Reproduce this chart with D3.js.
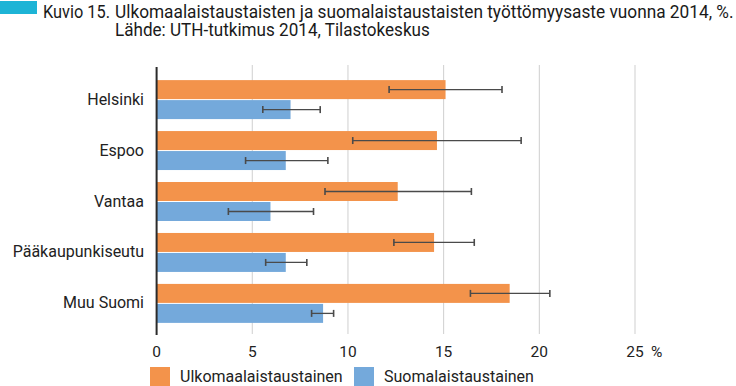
<!DOCTYPE html>
<html>
<head>
<meta charset="utf-8">
<script src="https://cdn.jsdelivr.net/npm/d3@7"></script>
<style>
  body { margin: 0; background: #fff; }
  svg { display: block; }
</style>
</head>
<body>
<div id="chart"></div>
<script>
// Työttömyysaste 2014 alueittain, virhepalkit = luottamusväli
const regions   = ["Helsinki", "Espoo", "Vantaa", "Pääkaupunkiseutu", "Muu Suomi"];
const foreign   = [15.1, 14.65, 12.6, 14.5, 18.45];
const foreignLo = [12.15, 10.25, 8.8, 12.4, 16.4];
const foreignHi = [18.05, 19.05, 16.45, 16.6, 20.55];
const native    = [7.0, 6.75, 5.95, 6.75, 8.7];
const nativeLo  = [5.55, 4.65, 3.75, 5.7, 8.1];
const nativeHi  = [8.55, 8.95, 8.2, 7.85, 9.25];
const ticks     = [0, 5, 10, 15, 20, 25];
const seriesNames = ["Ulkomaalaistaustainen", "Suomalaistaustainen"];

const width = 736, height = 386;
const COLORS = ["#F3934B", "#74A9DB"];
const FONT = "Roboto, 'Noto Sans', sans-serif";

const svg = d3.select("#chart").append("svg")
  .attr("width", width).attr("height", height);

// Title block — condensed look by squeezing each line horizontally
svg.append("rect")
  .attr("x", 0).attr("y", 1).attr("width", 37).attr("height", 13)
  .attr("fill", "#1DB4D6");

function condensed(str, x0, y0, targetW) {
  const g = svg.append("g");
  const t = g.append("text")
    .attr("x", 0).attr("y", 0)
    .style("font-family", FONT).style("font-size", "18px").style("fill", "#1a1a1a")
    .text(str);
  const w = t.node().getComputedTextLength();
  g.attr("transform", `translate(${x0},${y0}) scale(${targetW / w},1)`);
}

condensed("Kuvio 15.", 43, 17.5, 67);
condensed("Ulkomaalaistaustaisten ja suomalaistaustaisten työttömyysaste vuonna 2014, %.", 115, 17.5, 619);
condensed("Lähde: UTH-tutkimus 2014, Tilastokeskus", 115, 35.5, 315);

// Scales
const x = d3.scaleLinear().domain([0, 25]).range([156.6, 635]);
const y = d3.scaleBand().domain(regions).range([74, 329]).paddingInner(0.235).paddingOuter(0.12);
const sub = d3.scaleBand().domain([0, 1]).range([0, y.bandwidth()]).paddingInner(0.05);

// Gridlines
svg.append("g")
  .selectAll("line")
  .data(ticks.slice(1))
  .join("line")
  .attr("x1", d => x(d)).attr("x2", d => x(d))
  .attr("y1", 65).attr("y2", 334)
  .attr("stroke", "#cfcfcf").attr("stroke-width", 1);

// Bars
const rows = regions.map((r, i) => ({
  region: r,
  vals: [
    { k: 0, v: foreign[i], lo: foreignLo[i], hi: foreignHi[i] },
    { k: 1, v: native[i],  lo: nativeLo[i],  hi: nativeHi[i] }
  ]
}));

const groups = svg.append("g").selectAll("g")
  .data(rows)
  .join("g")
  .attr("transform", d => `translate(0,${y(d.region)})`);

groups.selectAll("rect")
  .data(d => d.vals)
  .join("rect")
  .attr("x", x(0))
  .attr("y", d => sub(d.k))
  .attr("width", d => x(d.v) - x(0))
  .attr("height", sub.bandwidth())
  .attr("fill", d => COLORS[d.k]);

// Error bars
const eb = groups.selectAll("g.err")
  .data(d => d.vals)
  .join("g")
  .attr("class", "err")
  .attr("transform", d => `translate(0,${sub(d.k) + sub.bandwidth() / 2})`);

eb.append("line")
  .attr("x1", d => x(d.lo)).attr("x2", d => x(d.hi))
  .attr("y1", 0).attr("y2", 0)
  .attr("stroke", "#4a4a4a").attr("stroke-width", 1.3);

eb.selectAll("line.cap")
  .data(d => [d.lo, d.hi])
  .join("line")
  .attr("class", "cap")
  .attr("x1", d => x(d)).attr("x2", d => x(d))
  .attr("y1", -3.5).attr("y2", 3.5)
  .attr("stroke", "#4a4a4a").attr("stroke-width", 1.6);

// Vertical axis line
svg.append("line")
  .attr("x1", x(0)).attr("x2", x(0))
  .attr("y1", 67).attr("y2", 335)
  .attr("stroke", "#2b2b2b").attr("stroke-width", 2);

// Category labels
svg.append("g")
  .selectAll("text")
  .data(regions)
  .join("text")
  .attr("x", 144)
  .attr("y", d => y(d) + y.bandwidth() / 2 + 5)
  .attr("text-anchor", "end")
  .style("font-family", FONT).style("font-size", "16px").style("fill", "#222")
  .text(d => d);

// X tick labels
svg.append("g")
  .selectAll("text")
  .data(ticks)
  .join("text")
  .attr("x", d => x(d))
  .attr("y", 357)
  .attr("text-anchor", "middle")
  .style("font-family", FONT).style("font-size", "15.5px").style("fill", "#222")
  .text(d => d);

svg.append("text")
  .attr("x", x(25) + 16).attr("y", 357)
  .style("font-family", FONT).style("font-size", "15.5px").style("fill", "#222")
  .text("%");

// Legend
const legendX = [150, 354];
const legend = svg.append("g").selectAll("g")
  .data(seriesNames)
  .join("g")
  .attr("transform", (d, i) => `translate(${legendX[i]},367)`);

legend.append("rect")
  .attr("width", 20).attr("height", 19)
  .attr("fill", (d, i) => COLORS[i]);

legend.append("text")
  .attr("x", 30).attr("y", 15)
  .style("font-family", FONT).style("font-size", "16px").style("fill", "#222")
  .text(d => d);
</script>
</body>
</html>
